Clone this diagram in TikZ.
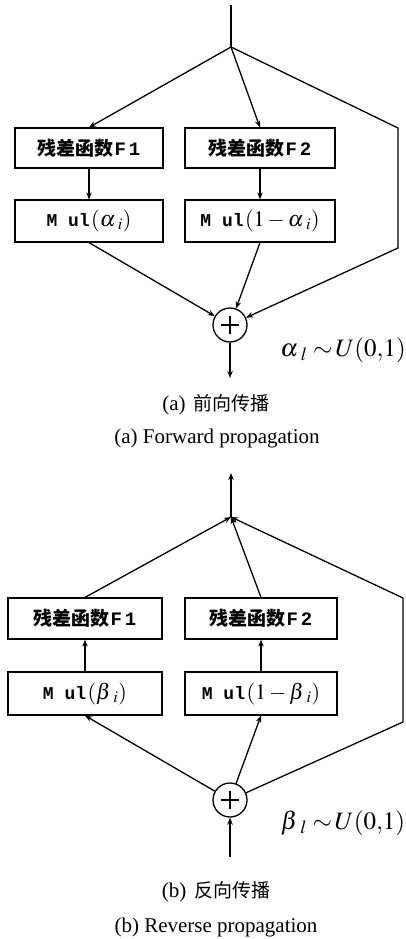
\documentclass[tikz,border=0pt]{standalone}
\usepackage{mathptmx}
\usepackage[no-math]{fontspec}
\setmainfont{Liberation Serif}
\newfontfamily\cjk{Noto Sans CJK SC}
\newfontfamily\mono{Liberation Mono}
\usetikzlibrary{arrows.meta}
\newcommand\resfn[1]{{\cjk\bfseries\fontsize{19}{19}\selectfont 残差函数}\hspace{1pt}{\mono\bfseries\fontsize{19}{19}\selectfont F\hspace{3pt}#1}}
\newcommand\mulp[1]{{\mono\bfseries\fontsize{18}{18}\selectfont M ul}\hspace{1.5pt}{\fontsize{22}{26}\selectfont$(#1)$}}
\tikzset{
  box/.style={draw, line width=1.2pt, minimum width=148pt, minimum height=41pt, inner sep=0pt},
  sumnode/.style={draw, circle, line width=1.3pt, minimum size=34pt, inner sep=0pt},
  conn/.style={line width=1.3pt},
  arr/.style={conn, -{Stealth[length=7pt,width=5.5pt]}},
  capt/.style={inner sep=0pt, font=\fontsize{21}{24}\selectfont},
  dist/.style={inner sep=0pt, font=\fontsize{25}{29}\selectfont}
}
\begin{document}
\begin{tikzpicture}[x=1pt,y=-1pt]
\useasboundingbox (0,0) rectangle (406,939);
% ---------- (a) forward ----------
\coordinate (topa) at (231,5);
\coordinate (ja) at (231,47);
\node[box, minimum height=40pt] (F1a) at (89,148) {\resfn{1}};
\node[box, minimum height=42pt] (M1a) at (89,221) {\mulp{\alpha\mkern2mu_i}};
\node[box, minimum width=150pt, minimum height=40pt] (F2a) at (260,148) {\resfn{2}};
\node[box, minimum width=150pt, minimum height=42pt] (M2a) at (260,221) {\mulp{1-\alpha\mkern2mu_i}};
\coordinate (ra1) at (398,128);
\coordinate (ra2) at (398,248);
\node[sumnode] (Sa) at (230,325) {};
\coordinate (outa) at (230,378);
\draw[conn] (topa) -- (ja);
\draw[arr] (ja) -- (F1a.north);
\draw[arr] (ja) -- (F2a.north);
\draw[arr] (ja) -- (ra1) -- (ra2) -- (Sa);
\draw[arr] (F1a) -- (M1a);
\draw[arr] (F2a) -- (M2a);
\draw[arr] (M1a.south) -- (Sa);
\draw[arr] (M2a.south) -- (Sa);
\draw[arr] (Sa) -- (outa);
\draw[conn] ([xshift=-9pt]Sa.center) -- ([xshift=9pt]Sa.center);
\draw[conn] ([yshift=-9pt]Sa.center) -- ([yshift=9pt]Sa.center);
\node[dist] (La) at (343,350) {$\alpha\mkern2mu_l \;{\sim}\, U(0{,}1)$};
\node[capt] (Ca1) at (216,405) {(a)\hspace{8pt}{\cjk\fontsize{19}{19}\selectfont 前向传播}};
\node[capt] (Ca2) at (217,438) {(a) Forward propagation};
% ---------- (b) reverse ----------
\coordinate (topb) at (231,473);
\coordinate (jb) at (231,517);
\node[box, minimum width=154pt] (F1b) at (85,618.5) {\resfn{1}};
\node[box, minimum width=154pt, minimum height=43pt] (M1b) at (85,693.5) {\mulp{\beta\mkern2mu_i}};
\node[box, minimum width=152pt] (F2b) at (261,618.5) {\resfn{2}};
\node[box, minimum width=152pt, minimum height=43pt] (M2b) at (261,693.5) {\mulp{1-\beta\mkern2mu_i}};
\coordinate (rb1) at (403,598);
\coordinate (rb2) at (403,722);
\node[sumnode] (Sb) at (230,800) {};
\coordinate (inb) at (230,857);
\draw[arr] (jb) -- (topb);
\draw[arr] (F1b.north) -- (jb);
\draw[arr] (F2b.north) -- (jb);
\draw[arr] (Sb) -- (rb2) -- (rb1) -- (jb);
\draw[arr] (M1b) -- (F1b);
\draw[arr] (M2b) -- (F2b);
\draw[arr] (Sb) -- (M1b.south);
\draw[arr] (Sb) -- (M2b.south);
\draw[arr] (inb) -- (Sb);
\draw[conn] ([xshift=-9pt]Sb.center) -- ([xshift=9pt]Sb.center);
\draw[conn] ([yshift=-9pt]Sb.center) -- ([yshift=9pt]Sb.center);
\node[dist] (Lb) at (343,823) {$\beta\mkern2mu_l \;{\sim}\, U(0{,}1)$};
\node[capt] (Cb1) at (216,892) {(b)\hspace{8pt}{\cjk\fontsize{19}{19}\selectfont 反向传播}};
\node[capt] (Cb2) at (216,927) {(b) Reverse propagation};
\end{tikzpicture}
\end{document}
